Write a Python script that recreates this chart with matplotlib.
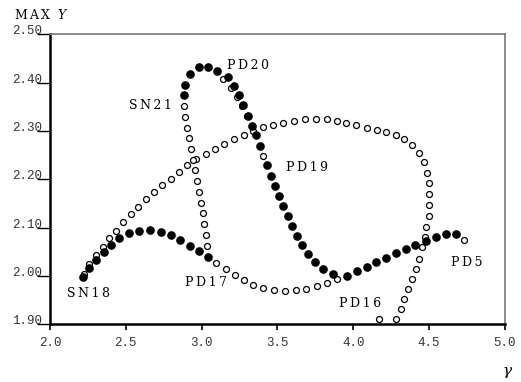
import matplotlib
matplotlib.use("Agg")
import matplotlib.pyplot as plt

# stable branch SN18 -> PD17 (filled)
stab1_x = [2.218, 2.259, 2.305, 2.354, 2.402, 2.457, 2.521, 2.589, 2.660, 2.730,
           2.796, 2.859, 2.921, 2.983, 3.042]
stab1_y = [1.998, 2.016, 2.033, 2.050, 2.065, 2.079, 2.088, 2.094, 2.095, 2.091,
           2.084, 2.074, 2.063, 2.052, 2.040]

# stable branch through PD20 / PD19 -> PD5 (filled)
stab2_x = [2.884, 2.892, 2.925, 2.983, 3.039, 3.100, 3.175, 3.212, 3.247, 3.276,
           3.306, 3.334, 3.359, 3.383, 3.433, 3.460, 3.486, 3.512, 3.539, 3.567,
           3.596, 3.627, 3.664, 3.700, 3.750, 3.803, 3.865, 3.957, 4.023, 4.088,
           4.152, 4.216, 4.281, 4.346, 4.410, 4.477, 4.545, 4.612, 4.680]
stab2_y = [2.374, 2.396, 2.418, 2.432, 2.433, 2.424, 2.412, 2.393, 2.374, 2.354,
           2.332, 2.311, 2.291, 2.270, 2.229, 2.207, 2.187, 2.165, 2.145, 2.124,
           2.104, 2.083, 2.064, 2.045, 2.029, 2.015, 2.005, 2.000, 2.010, 2.019,
           2.028, 2.038, 2.047, 2.055, 2.065, 2.073, 2.080, 2.086, 2.087]

# unstable branch SN18 -> big arc -> PD16 (open)
unst1_x = [2.222, 2.257, 2.303, 2.350, 2.389, 2.433, 2.483, 2.532, 2.580, 2.631,
           2.686, 2.741, 2.796, 2.851, 2.904, 2.965, 3.027, 3.090, 3.148, 3.214,
           3.278, 3.342, 3.407, 3.474, 3.539, 3.611, 3.684, 3.753, 3.825, 3.891,
           3.952, 4.020, 4.089, 4.154, 4.218, 4.280, 4.337, 4.390, 4.432, 4.464,
           4.488, 4.500, 4.503, 4.503, 4.498, 4.483, 4.474, 4.456, 4.436, 4.413,
           4.390, 4.363, 4.337, 4.312, 4.281, 4.170]
unst1_y = [2.005, 2.025, 2.043, 2.060, 2.078, 2.094, 2.111, 2.128, 2.143, 2.160,
           2.173, 2.188, 2.201, 2.215, 2.230, 2.242, 2.252, 2.263, 2.273, 2.284,
           2.292, 2.300, 2.308, 2.313, 2.317, 2.321, 2.324, 2.325, 2.324, 2.321,
           2.317, 2.312, 2.307, 2.303, 2.299, 2.292, 2.283, 2.272, 2.255, 2.235,
           2.214, 2.192, 2.170, 2.146, 2.125, 2.102, 2.081, 2.059, 2.036, 2.015,
           1.994, 1.973, 1.953, 1.932, 1.911, 1.910]

# unstable branch SN21 -> PD17 -> minimum (open)
unst2_x = [2.882, 2.892, 2.904, 2.915, 2.930, 2.940, 2.956, 2.972, 2.985, 2.996,
           3.009, 3.018, 3.031, 3.038, 3.098, 3.159, 3.218, 3.278, 3.342, 3.407,
           3.479, 3.550, 3.621, 3.690, 3.758, 3.826, 3.894]
unst2_y = [2.352, 2.330, 2.307, 2.285, 2.263, 2.241, 2.219, 2.196, 2.174, 2.152,
           2.130, 2.108, 2.085, 2.063, 2.026, 2.014, 2.002, 1.991, 1.981, 1.975,
           1.971, 1.969, 1.971, 1.973, 1.979, 1.985, 1.993]

# unstable points after PD20 and after PD5 (open)
unst3_x = [3.143, 3.191, 3.235, 3.263, 3.296, 3.407, 4.729]
unst3_y = [2.407, 2.390, 2.371, 2.352, 2.332, 2.249, 2.074]

labels = ["SN18", "SN21", "PD20", "PD19", "PD17", "PD16", "PD5"]
label_x = [2.257, 2.664, 3.306, 3.695, 3.026, 4.045, 4.751]
label_y = [1.963, 2.353, 2.435, 2.225, 1.987, 1.943, 2.027]

xticks = [2.0, 2.5, 3.0, 3.5, 4.0, 4.5, 5.0]
yticks = [1.9, 2.0, 2.1, 2.2, 2.3, 2.4, 2.5]

plt.rcParams['mathtext.fontset'] = 'dejavuserif'

fig = plt.figure(figsize=(5.21, 3.82), dpi=100)
ax = fig.add_axes([0.096, 0.151, 0.873, 0.759])

open_style = dict(linestyle='none', marker='o', markersize=4.3,
                  markerfacecolor='white', markeredgecolor='black', markeredgewidth=0.9)
for ux, uy in [(unst1_x, unst1_y), (unst2_x, unst2_y), (unst3_x, unst3_y)]:
    ax.plot(ux, uy, **open_style)

ax.plot(stab1_x, stab1_y, 'o', color='black', markersize=5.2)
ax.plot(stab2_x, stab2_y, 'o', color='black', markersize=5.2)

for name, lx, ly in zip(labels, label_x, label_y):
    spaced = '\u2009'.join(name)
    ax.text(lx, ly, spaced, family='DejaVu Serif', fontsize=9, ha='center', va='center')

ax.set_xlim(2.0, 5.0)
ax.set_ylim(1.90, 2.50)
ax.set_xticks(xticks)
ax.set_xticklabels([f'{t:.1f}' for t in xticks])
ax.set_yticks(yticks)
ax.set_yticklabels([f'{t:.2f}' for t in yticks])

for lbl in ax.get_xticklabels() + ax.get_yticklabels():
    lbl.set_family('Liberation Mono')
    lbl.set_fontsize(9)
    lbl.set_color('#333333')
for lbl in ax.get_yticklabels():
    lbl.set_verticalalignment('baseline')

ax.tick_params(axis='x', direction='out', length=4, width=1.2, pad=5)
ax.tick_params(axis='y', direction='out', length=9.5, width=1.0, pad=-3.5)

for side in ['left', 'bottom']:
    ax.spines[side].set_linewidth(1.8)
    ax.spines[side].set_color('black')
for side in ['top', 'right']:
    ax.spines[side].set_linewidth(1.2)
    ax.spines[side].set_color('#777777')

fig.text(0.027, 0.962, 'M\u2009A\u2009X  $Y$', family='DejaVu Serif', fontsize=9,
         ha='left', va='center')
fig.text(0.975, 0.025, r'$\gamma$', fontsize=11, ha='center', va='center')

fig.savefig('out.png', dpi=100)
